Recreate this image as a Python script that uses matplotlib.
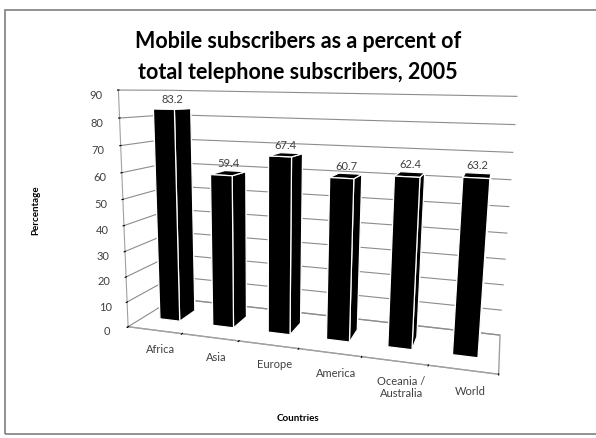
import numpy as np
import matplotlib.pyplot as plt
from matplotlib.patches import Rectangle

# data
countries = ['Africa', 'Asia', 'Europe', 'America', 'Oceania /\nAustralia', 'World']
mobile_pct = [83.2, 59.4, 67.4, 60.7, 62.4, 63.2]
y_ticks = [0, 10, 20, 30, 40, 50, 60, 70, 80, 90]

plt.rcParams['font.family'] = ['Lato', 'DejaVu Sans']

fig = plt.figure(figsize=(5.96, 4.38), dpi=100)
fig.patches.append(Rectangle((0.008, 0.008), 1.2, 0.97, transform=fig.transFigure,
                             fill=False, edgecolor='#7f7f7f', linewidth=1.2))

ax = fig.add_axes([0.04, 0.075, 0.96, 0.84], projection='3d')
ax.set_proj_type('persp', focal_length=0.33)
ax.view_init(elev=11, azim=-74, roll=-0.9)
ax.set_box_aspect((6, 1.6, 3.9), zoom=1.2)

n = len(countries)
xs = np.arange(n)
w = 0.38
ax.bar3d(xs - w / 2, 0.32, 0, w, 0.36, mobile_pct, color='black',
         edgecolor='white', linewidth=0.9, shade=False)

for i, v in enumerate(mobile_pct):
    ax.text(i, 0.5, v + 1.5, f'{v}', ha='center', va='bottom', fontsize=8, color='#404040')

# category names sit in front of the floor, tick marks fall between bars
for i, name in enumerate(countries):
    ax.text(i + 0.12, -0.02, -5, name, ha='center', va='top', fontsize=8,
            color='#404040', linespacing=1.1)

ax.set_xlim(-0.5, n - 0.5)
ax.set_ylim(0, 1)
ax.set_zlim(0, 90)
ax.set_xticks(np.arange(n + 1) - 0.5)
ax.set_xticklabels([''] * (n + 1))
ax.set_yticks([])
ax.set_zticks(y_ticks)
ax.set_zticklabels([str(t) for t in y_ticks], fontsize=8, color='#404040')
ax.zaxis.set_ticks_position('lower')
ax.zaxis.set_label_position('lower')
ax.tick_params(axis='z', pad=0)

for a in (ax.xaxis, ax.yaxis, ax.zaxis):
    a.set_pane_color((1, 1, 1, 1))
    a.pane.set_edgecolor('none')
    a.set_label_text('')
ax.zaxis.pane.set_edgecolor('#a0a0a0')
ax.xaxis._axinfo['grid']['color'] = (1, 1, 1, 0)
ax.yaxis._axinfo['grid']['color'] = (1, 1, 1, 0)
ax.zaxis._axinfo['grid']['color'] = '#8c8c8c'
ax.zaxis._axinfo['grid']['linewidth'] = 0.8
ax.yaxis.line.set_color((1, 1, 1, 0))
ax.xaxis.line.set_color('#a0a0a0')
ax.zaxis.line.set_color('#a0a0a0')

fig.text(0.5, 0.87, 'Mobile subscribers as a percent of\ntotal telephone subscribers, 2005',
         ha='center', va='center', fontsize=15.5, fontweight='bold', linespacing=1.6)
fig.text(0.06, 0.52, 'Percentage', rotation=90, ha='center', va='center',
         fontsize=7, fontweight='bold')
fig.text(0.5, 0.045, 'Countries', ha='center', va='center', fontsize=7, fontweight='bold')

fig.savefig('out.png', dpi=100)
